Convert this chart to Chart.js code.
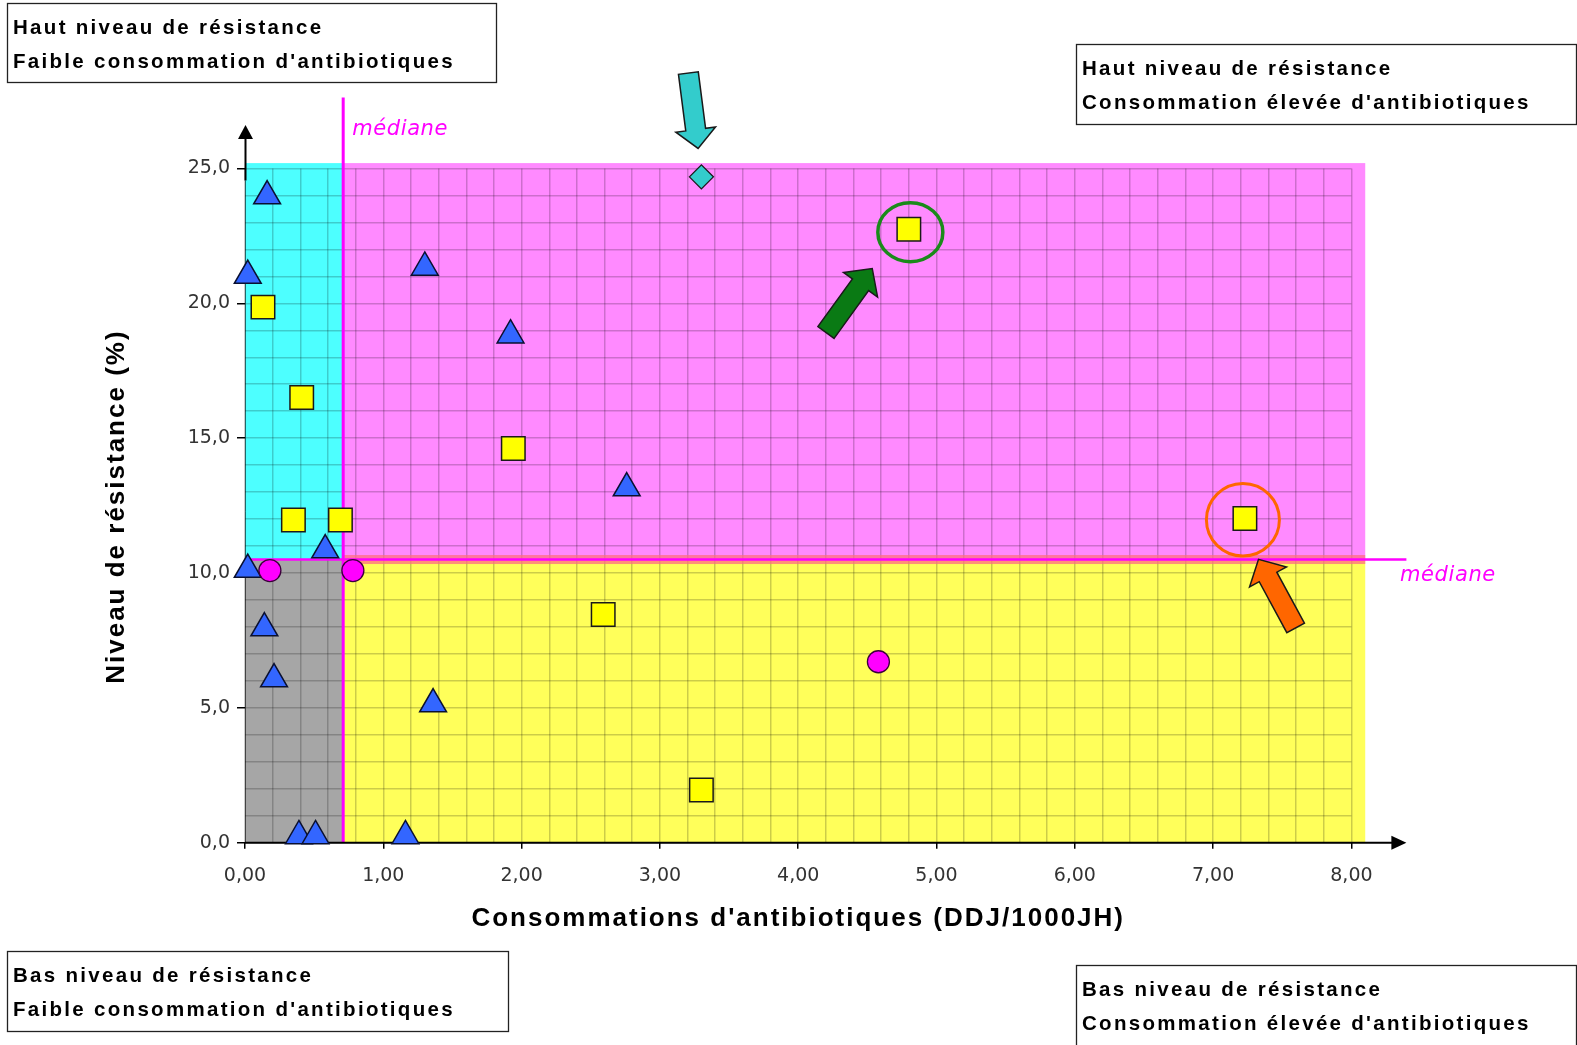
<!DOCTYPE html>
<html lang="fr">
<head>
<meta charset="utf-8">
<title>Niveau de résistance et consommation d'antibiotiques</title>
<script src="https://cdn.jsdelivr.net/npm/chart.js@4.4.1/dist/chart.umd.min.js"></script>
<style>
  html, body { margin: 0; padding: 0; background: #ffffff; }
  #wrap { width: 1577px; height: 1045px; }
</style>
</head>
<body>
<div id="wrap"><canvas id="myChart" width="1577" height="1045"></canvas></div>
<script>
'use strict';

const triangleX = [0.16, 0.02, 1.30, 1.92, 2.76, 0.58, 0.02, 0.14, 0.21, 1.36, 0.39, 0.51, 1.16];
const triangleY = [23.98, 21.03, 21.33, 18.82, 13.15, 10.85, 10.13, 7.96, 6.07, 5.14, 0.25, 0.25, 0.25];
const squareX = [0.13, 0.41, 0.35, 0.69, 1.94, 2.59, 3.30, 4.80, 7.23];
const squareY = [19.86, 16.51, 11.97, 11.97, 14.62, 8.46, 1.95, 22.75, 12.02];
const circleX = [0.18, 0.78, 4.58];
const circleY = [10.09, 10.09, 6.71];
const diamondX = [3.30];
const diamondY = [24.69];

const medianX = 0.71;
const medianY = 10.5;
const plotMaxX = 8.1;
const plotMaxY = 25.2;

const xLabelValues = [0, 1, 2, 3, 4, 5, 6, 7, 8];
const yLabelValues = [0, 5, 10, 15, 20, 25];

const xTitle = "Consommations d'antibiotiques (DDJ/1000JH)";
const yTitle = 'Niveau de résistance (%)';
const medianLabel = 'médiane';

const quadrantTexts = [
   ['Haut niveau de résistance', "Faible consommation d'antibiotiques"],
   ['Haut niveau de résistance', "Consommation élevée d'antibiotiques"],
   ['Bas niveau de résistance', "Faible consommation d'antibiotiques"],
   ['Bas niveau de résistance', "Consommation élevée d'antibiotiques"]
];
// box rectangles (x, y, w, h) for the four texts above
const quadrantBoxes = [
   [7, 3, 489, 79],
   [1076, 44, 500, 80],
   [7, 951, 501, 80],
   [1076, 965, 500, 84]
];

function toPoints(xs, ys) {
   return xs.map(function (x, i) { return { x: x, y: ys[i] }; });
}

function hasLabel(v, list) {
   return list.some(function (l) { return Math.abs(l - v) < 1e-6; });
}

function drawArrow(ctx, tipX, tipY, dx, dy, len, shaftW, headW, headL, fill) {
   const n = Math.hypot(dx, dy);
   const ux = dx / n, uy = dy / n;
   const vx = -uy, vy = ux;
   const bx = tipX - ux * len, by = tipY - uy * len;
   const hx = tipX - ux * headL, hy = tipY - uy * headL;
   ctx.beginPath();
   ctx.moveTo(bx + vx * shaftW / 2, by + vy * shaftW / 2);
   ctx.lineTo(hx + vx * shaftW / 2, hy + vy * shaftW / 2);
   ctx.lineTo(hx + vx * headW / 2, hy + vy * headW / 2);
   ctx.lineTo(tipX, tipY);
   ctx.lineTo(hx - vx * headW / 2, hy - vy * headW / 2);
   ctx.lineTo(hx - vx * shaftW / 2, hy - vy * shaftW / 2);
   ctx.lineTo(bx - vx * shaftW / 2, by - vy * shaftW / 2);
   ctx.closePath();
   ctx.fillStyle = fill;
   ctx.fill();
   ctx.lineWidth = 1.5;
   ctx.strokeStyle = '#1a1a1a';
   ctx.stroke();
}

const quadrantPlugin = {
   id: 'quadrants',
   beforeDraw: function (chart) {
      const ctx = chart.ctx, sx = chart.scales.x, sy = chart.scales.y;
      const x0 = sx.getPixelForValue(0), xm = sx.getPixelForValue(medianX), x1 = sx.getPixelForValue(plotMaxX);
      const y0 = sy.getPixelForValue(0), ym = sy.getPixelForValue(medianY), y1 = sy.getPixelForValue(plotMaxY);
      ctx.save();
      ctx.fillStyle = '#A6A6A6';
      ctx.fillRect(x0, ym, xm - x0, y0 - ym);
      ctx.fillStyle = '#4DFFFF';
      ctx.fillRect(x0, y1, xm - x0, ym - y1);
      ctx.fillStyle = '#FF8AFF';
      ctx.fillRect(xm, y1, x1 - xm, ym - y1);
      ctx.fillStyle = '#FFFF5A';
      ctx.fillRect(xm, ym, x1 - xm, y0 - ym);
      ctx.restore();
   },
   beforeDatasetsDraw: function (chart) {
      const ctx = chart.ctx, sx = chart.scales.x, sy = chart.scales.y, area = chart.chartArea;
      const x0 = sx.getPixelForValue(0), xm = sx.getPixelForValue(medianX), x1 = sx.getPixelForValue(plotMaxX);
      const y0 = sy.getPixelForValue(0), ym = sy.getPixelForValue(medianY);
      ctx.save();
      // median lines
      ctx.fillStyle = 'rgba(255,110,130,0.75)';
      ctx.fillRect(xm, ym - 4.5, x1 - xm, 9);
      ctx.strokeStyle = '#FF00FF';
      ctx.lineWidth = 2.5;
      ctx.beginPath();
      ctx.moveTo(x0, ym);
      ctx.lineTo(area.right + 55, ym);
      ctx.stroke();
      ctx.lineWidth = 3;
      ctx.beginPath();
      ctx.moveTo(xm, area.top - 71);
      ctx.lineTo(xm, y0);
      ctx.stroke();

      // x axis with arrow
      ctx.strokeStyle = '#000';
      ctx.fillStyle = '#000';
      ctx.lineWidth = 2;
      const xTip = area.right + 55;
      ctx.beginPath();
      ctx.moveTo(x0, y0);
      ctx.lineTo(xTip - 10, y0);
      ctx.stroke();
      ctx.beginPath();
      ctx.moveTo(xTip, y0);
      ctx.lineTo(xTip - 15, y0 - 7);
      ctx.lineTo(xTip - 15, y0 + 7);
      ctx.closePath();
      ctx.fill();

      // y axis with arrow
      const yTip = area.top - 43.5;
      ctx.lineWidth = 1;
      ctx.strokeStyle = 'rgba(0,0,0,0.55)';
      ctx.beginPath();
      ctx.moveTo(x0 + 0.5, y0);
      ctx.lineTo(x0 + 0.5, area.top + 12);
      ctx.stroke();
      ctx.lineWidth = 2;
      ctx.strokeStyle = '#000';
      ctx.beginPath();
      ctx.moveTo(x0 + 0.5, area.top + 12);
      ctx.lineTo(x0 + 0.5, yTip + 8);
      ctx.stroke();
      ctx.beginPath();
      ctx.moveTo(x0 + 0.5, yTip);
      ctx.lineTo(x0 - 7, yTip + 14);
      ctx.lineTo(x0 + 8, yTip + 14);
      ctx.closePath();
      ctx.fill();
      ctx.restore();
   },
   afterDraw: function (chart) {
      const ctx = chart.ctx, sx = chart.scales.x, sy = chart.scales.y, area = chart.chartArea;
      const xm = sx.getPixelForValue(medianX), ym = sy.getPixelForValue(medianY);
      ctx.save();

      // "médiane" labels
      ctx.font = 'italic 21px "DejaVu Sans"';
      ctx.letterSpacing = '0.6px';
      ctx.fillStyle = '#FF00FF';
      ctx.textAlign = 'left';
      ctx.textBaseline = 'alphabetic';
      ctx.fillText(medianLabel, xm + 9, area.top - 33.5);
      ctx.fillText(medianLabel, area.right + 48.6, ym + 21.5);

      // circles round the two highlighted squares
      const g = [sx.getPixelForValue(squareX[7]), sy.getPixelForValue(squareY[7])];
      const o = [sx.getPixelForValue(squareX[8]), sy.getPixelForValue(squareY[8])];
      ctx.lineWidth = 3.5;
      ctx.strokeStyle = '#1A8A1A';
      ctx.beginPath();
      ctx.ellipse(g[0] + 1.5, g[1] + 3, 32.5, 29.5, 0, 0, Math.PI * 2);
      ctx.stroke();
      ctx.lineWidth = 3;
      ctx.strokeStyle = '#FF6600';
      ctx.beginPath();
      ctx.ellipse(o[0] - 2, o[1] + 1.2, 36.5, 36.3, 0, 0, Math.PI * 2);
      ctx.stroke();

      // arrows pointing at points
      const d = [sx.getPixelForValue(diamondX[0]), sy.getPixelForValue(diamondY[0])];
      drawArrow(ctx, d[0] - 3.3, d[1] - 28.4, 9.7, 75.3, 76, 20, 40, 19, '#33CCCC');
      drawArrow(ctx, g[0] - 36.6, g[1] + 39.3, 46, -63.7, 79, 20, 42, 20, '#0A7A14');
      drawArrow(ctx, o[0] + 13.6, o[1] + 40.8, -37, -68.4, 78, 20, 42, 20, '#FF6600');

      // axis titles
      ctx.fillStyle = '#000';
      ctx.font = 'bold 26px "Liberation Sans"';
      ctx.letterSpacing = '2px';
      ctx.textAlign = 'center';
      ctx.textBaseline = 'middle';
      ctx.fillText(xTitle, (area.left + area.right) / 2, 919);
      ctx.save();
      ctx.translate(117, (area.top + area.bottom) / 2 + 1);
      ctx.rotate(-Math.PI / 2);
      ctx.fillText(yTitle, 0, 0);
      ctx.restore();

      // quadrant text boxes
      ctx.font = 'bold 20.5px "Liberation Sans"';
      ctx.letterSpacing = '2.3px';
      ctx.textAlign = 'left';
      ctx.textBaseline = 'middle';
      quadrantBoxes.forEach(function (b, i) {
         ctx.fillStyle = '#fff';
         ctx.fillRect(b[0], b[1], b[2], b[3]);
         ctx.lineWidth = 1.3;
         ctx.strokeStyle = '#222';
         ctx.strokeRect(b[0] + 0.5, b[1] + 0.5, b[2], b[3]);
         ctx.fillStyle = '#000';
         ctx.fillText(quadrantTexts[i][0], b[0] + 6, b[1] + 25.5);
         ctx.fillText(quadrantTexts[i][1], b[0] + 6, b[1] + 59.5);
      });
      ctx.restore();
   }
};

const tickFont = { family: 'DejaVu Sans', size: 19 };
const gridColor = 'rgba(0,0,0,0.2)';

const ctx = document.getElementById('myChart');
const myChart = new Chart(ctx, {
   type: 'scatter',
   data: {
      datasets: [{
         label: 'diamond',
         data: toPoints(diamondX, diamondY),
         pointStyle: 'rectRot',
         pointRadius: 12,
         backgroundColor: '#33CCCC',
         borderColor: '#1a1a1a',
         borderWidth: 1.3,
         clip: false
      }, {
         label: 'circles',
         data: toPoints(circleX, circleY),
         pointStyle: 'circle',
         pointRadius: 11,
         backgroundColor: '#FF00FF',
         borderColor: '#3a003a',
         borderWidth: 1.3,
         clip: false
      }, {
         label: 'squares',
         data: toPoints(squareX, squareY),
         pointStyle: 'rect',
         pointRadius: 16.6,
         backgroundColor: '#FFFF00',
         borderColor: '#1a1a1a',
         borderWidth: 1.5,
         clip: false
      }, {
         label: 'triangles',
         data: toPoints(triangleX, triangleY),
         pointStyle: 'triangle',
         pointRadius: 15.5,
         backgroundColor: '#3366FF',
         borderColor: '#0a1030',
         borderWidth: 1.5,
         clip: false
      }]
   },
   options: {
      responsive: false,
      animation: false,
      events: [],
      layout: { padding: { top: 168.5, right: 225.6, bottom: 0, left: 0 } },
      plugins: {
         legend: { display: false },
         tooltip: { enabled: false }
      },
      scales: {
         x: {
            type: 'linear',
            position: 'bottom',
            min: 0,
            max: 8,
            border: { display: false },
            grid: {
               color: gridColor,
               lineWidth: 1.5,
               tickLength: 6,
               tickColor: function (c) { return c.tick && hasLabel(c.tick.value, xLabelValues) ? '#000' : 'rgba(0,0,0,0)'; }
            },
            ticks: {
               stepSize: 0.2,
               autoSkip: false,
               includeBounds: false,
               maxRotation: 0,
               padding: 16,
               color: '#333',
               font: tickFont,
               callback: function (v) { return hasLabel(v, xLabelValues) ? v.toFixed(2).replace('.', ',') : ''; }
            },
            afterFit: function (s) { s.height = 1045 - 842.7; }
         },
         y: {
            type: 'linear',
            position: 'left',
            min: 0,
            max: 25,
            border: { display: false },
            grid: {
               color: gridColor,
               lineWidth: 1.5,
               tickLength: 8,
               tickColor: function (c) { return c.tick && hasLabel(c.tick.value, yLabelValues) ? '#000' : 'rgba(0,0,0,0)'; }
            },
            ticks: {
               stepSize: 1,
               autoSkip: false,
               includeBounds: false,
               padding: 7,
               color: '#333',
               font: tickFont,
               callback: function (v) { return hasLabel(v, yLabelValues) ? v.toFixed(1).replace('.', ',') : ''; }
            },
            afterFit: function (s) { s.width = 245; }
         }
      }
   },
   plugins: [quadrantPlugin]
});
</script>
</body>
</html>
